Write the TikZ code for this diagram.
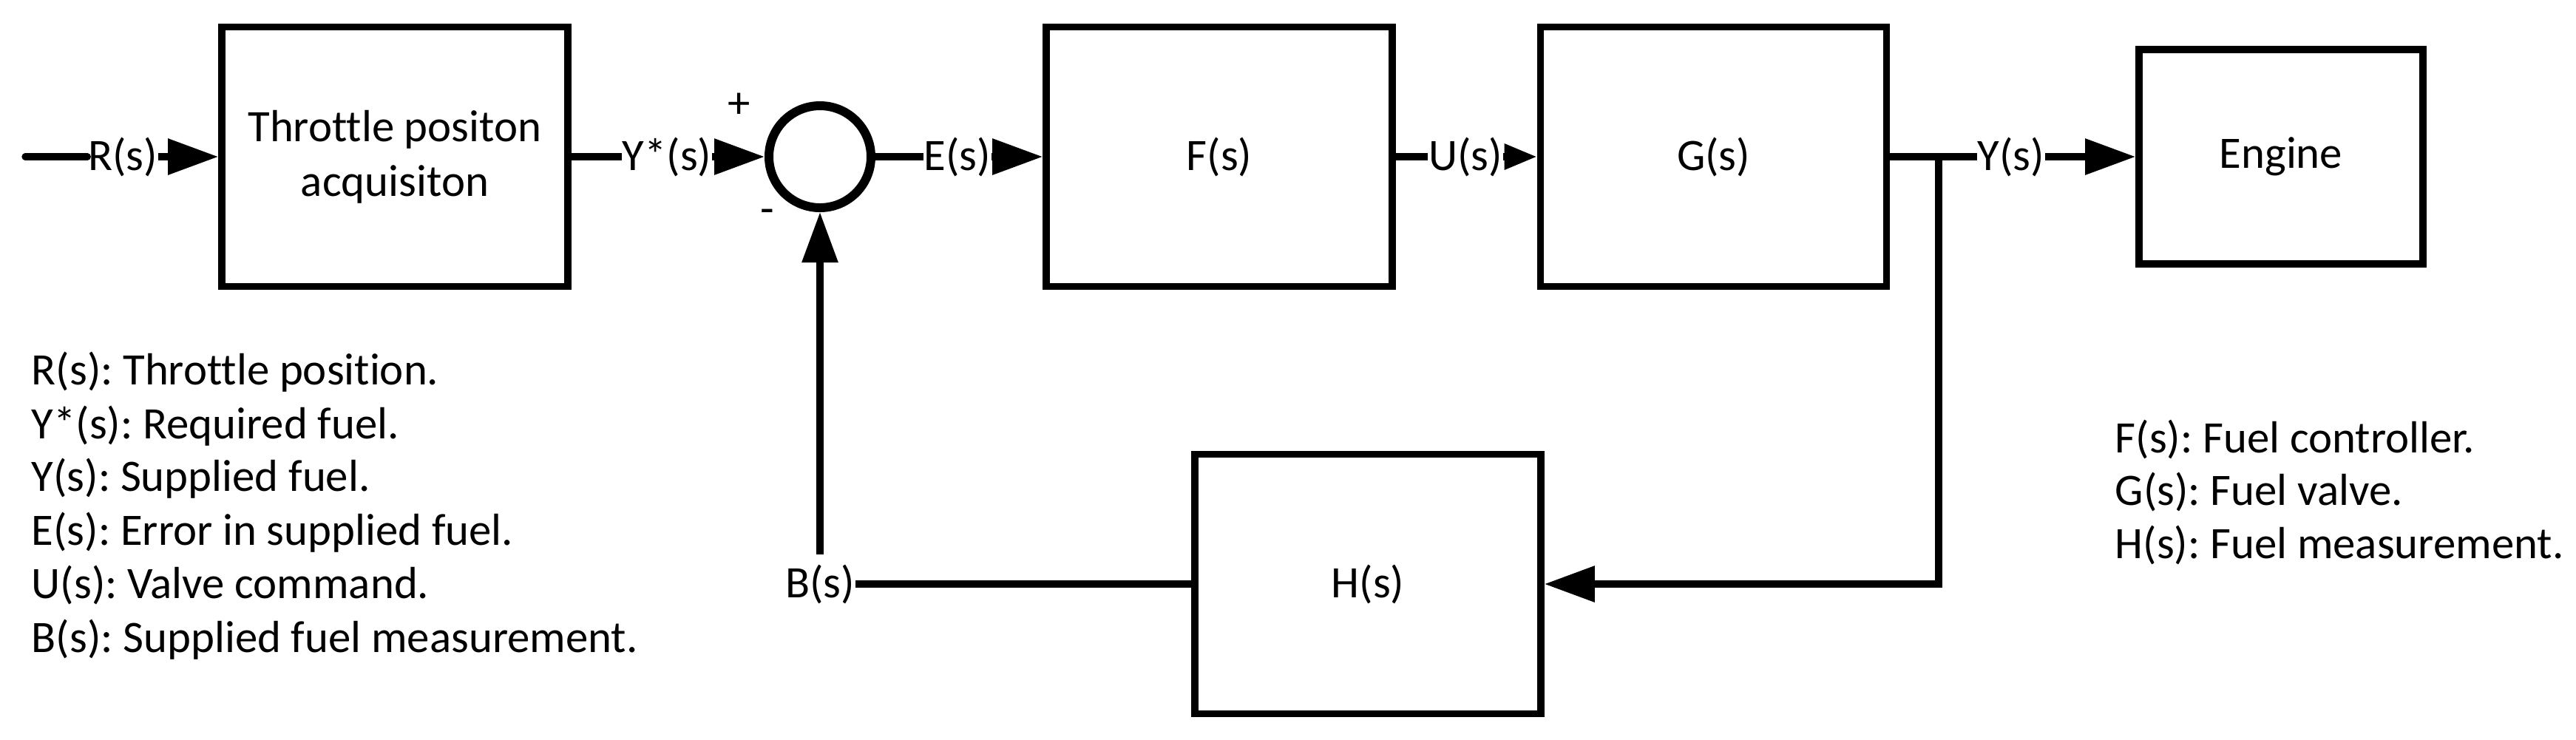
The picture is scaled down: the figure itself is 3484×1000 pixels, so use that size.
\documentclass[tikz,border=0pt]{standalone}
\usepackage{fontspec}
\setmainfont{Carlito}[Ligatures={NoCommon}]
\frenchspacing
\usetikzlibrary{arrows.meta}
\begin{document}
\begin{tikzpicture}[x=0.25pt,y=-0.25pt,
  txt/.style={font=\fontsize{15.2}{18.5}\selectfont},
  blk/.style={draw,line width=2.4pt,minimum width=117pt,minimum height=87.75pt,inner sep=0pt,align=center,txt},
  eng/.style={blk,minimum width=96pt,minimum height=72.5pt},
  sumc/.style={draw,circle,line width=3pt,minimum size=34.5pt,inner sep=0pt},
  lbl/.style={inner sep=0pt,txt},
  leg/.style={inner sep=0pt,anchor=base west,txt},
  wire/.style={line width=2.3pt},
  arr/.style={wire,-{Triangle[length=17pt,width=11.75pt]}},
  sarr/.style={wire,-{Triangle[length=11pt,width=8.25pt]}}]
\useasboundingbox (0,0) rectangle (3484,1000);
% blocks
\node[blk] (thr) at (534,212) {Throttle positon\\acquisiton};
\node[sumc] (sum) at (1109,212) {};
\node[blk] (F) at (1649,212) {F(s)};
\node[blk] (G) at (2317.5,212) {G(s)};
\node[eng] (E) at (3085,212) {Engine};
\node[blk] (H) at (1850,790) {H(s)};
% signal labels
\node[lbl] (Rl) at (166,212) {R(s)};
\node[lbl] (Ysl) at (902,212) {Y*(s)};
\node[lbl] (El) at (1295,212) {E(s)};
\node[lbl] (Ul) at (1982,212) {U(s)};
\node[lbl] (Yl) at (2720,212) {Y(s)};
\node[lbl] (Bl) at (1109,790) {B(s)};
\node[lbl] (plus) at (1000,143) {+};
\node[lbl] (minus) at (1038,293) {-};
% points
\coordinate (rin) at (34,212);
\coordinate (jn) at (2622,212);
\coordinate (bt) at (1109,750);
% connectors
\draw[wire,line cap=round] (rin) -- (Rl.west);
\draw[arr] (Rl.east) -- (thr.west);
\draw[wire] (thr.east) -- (Ysl.west);
\draw[arr] (Ysl.east) -- (sum.west);
\draw[wire] (sum.east) -- (El.west);
\draw[arr] (El.east) -- (F.west);
\draw[wire] (F.east) -- (Ul.west);
\draw[sarr] (Ul.east) -- (G.west);
\draw[wire] (G.east) -- (Yl.west);
\draw[arr] (Yl.east) -- (E.west);
\draw[arr] (jn) |- (H.east);
\draw[wire] (H.west) -- (Bl.east);
\draw[arr] (bt) -- (sum.south);
% legends
\node[leg] (l1) at (42,520) {R(s): Throttle position.};
\node[leg] (l2) at (42,593) {Y*(s): Required fuel.};
\node[leg] (l3) at (42,664) {Y(s): Supplied fuel.};
\node[leg] (l4) at (42,737) {E(s): Error in supplied fuel.};
\node[leg] (l5) at (42,809) {U(s): Valve command.};
\node[leg] (l6) at (42,882) {B(s): Supplied fuel measurement.};
\node[leg] (r1) at (2860,612) {F(s): Fuel controller.};
\node[leg] (r2) at (2860,683) {G(s): Fuel valve.};
\node[leg] (r3) at (2860,755) {H(s): Fuel measurement.};
\end{tikzpicture}
\end{document}
